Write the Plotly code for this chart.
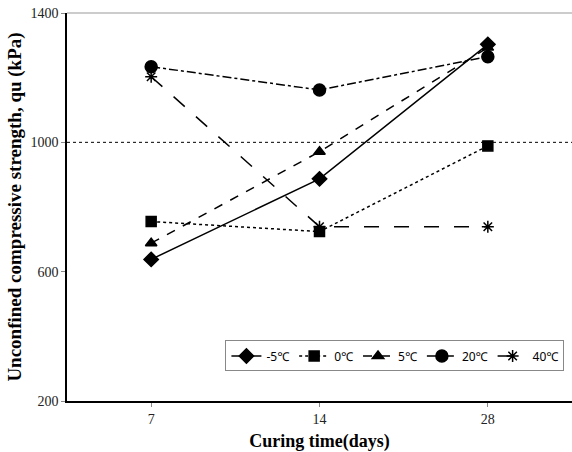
import plotly.graph_objects as go

days = ["7", "14", "28"]
series_names = ["-5℃", "0℃", "5℃", "20℃", "40℃"]
v_m5 = [638, 887, 1303]
v_0 = [755, 724, 989]
v_5 = [688, 971, 1293]
v_20 = [1234, 1162, 1265]
v_40 = [1203, 739, 739]
y_ticks = [200, 600, 1000, 1400]

values = [v_m5, v_0, v_5, v_20, v_40]
symbols = ["diamond", "square", "triangle-up", "circle", "asterisk-open"]
dashes = ["solid", "dot", "dash", "dashdot", "longdash"]
sizes = [11, 10, 10, 12, 10]

fig = go.Figure()
for name, vals, sym, dsh, sz in zip(series_names, values, symbols, dashes, sizes):
    fig.add_trace(go.Scatter(
        x=days, y=vals, name=name, mode="lines+markers",
        line=dict(color="black", width=1.5, dash=dsh),
        marker=dict(symbol=sym, size=sz, color="black",
                    line=dict(color="black", width=1.5)),
    ))

fig.add_shape(type="line", xref="paper", yref="y", x0=0, x1=1, y0=1000, y1=1000,
              line=dict(color="black", width=1, dash="dot"))
fig.add_shape(type="line", xref="paper", yref="paper", x0=0, x1=1, y0=1, y1=1,
              line=dict(color="#999999", width=1))

fig.update_layout(
    width=572, height=452,
    margin=dict(l=67, r=0, t=13, b=51, autoexpand=False),
    paper_bgcolor="white", plot_bgcolor="white",
    font=dict(family="Liberation Serif", color="#222222", size=14),
    showlegend=True,
    legend=dict(orientation="h", x=0.985, y=0.116, xanchor="right", yanchor="middle",
                bordercolor="#888888", borderwidth=1, bgcolor="white",
                font=dict(family="Noto Sans", size=12, color="black"),
                itemwidth=30, tracegroupgap=0),
    xaxis=dict(type="category", range=[-0.5, 2.5], showline=True, linecolor="black",
               linewidth=1.5, ticks="outside", ticklen=4, tickcolor="#888888",
               showgrid=False, zeroline=False, automargin=False,
               title=dict(text="<b>Curing time(days)</b>", font=dict(size=18, color="black"))),
    yaxis=dict(range=[200, 1400], tickvals=y_ticks, showline=True, linecolor="black",
               linewidth=1.5, ticks="outside", ticklen=4, tickcolor="#888888",
               showgrid=False, zeroline=False, automargin=True,
               ticklabeloverflow="allow",
               title=dict(text="<b>Unconfined compressive strength, qu (kPa)</b>",
                          font=dict(size=19, color="black"), standoff=4)),
)

fig.write_html("out.html", config={"displayModeBar": False},
               post_script="document.body.style.margin='0';")
